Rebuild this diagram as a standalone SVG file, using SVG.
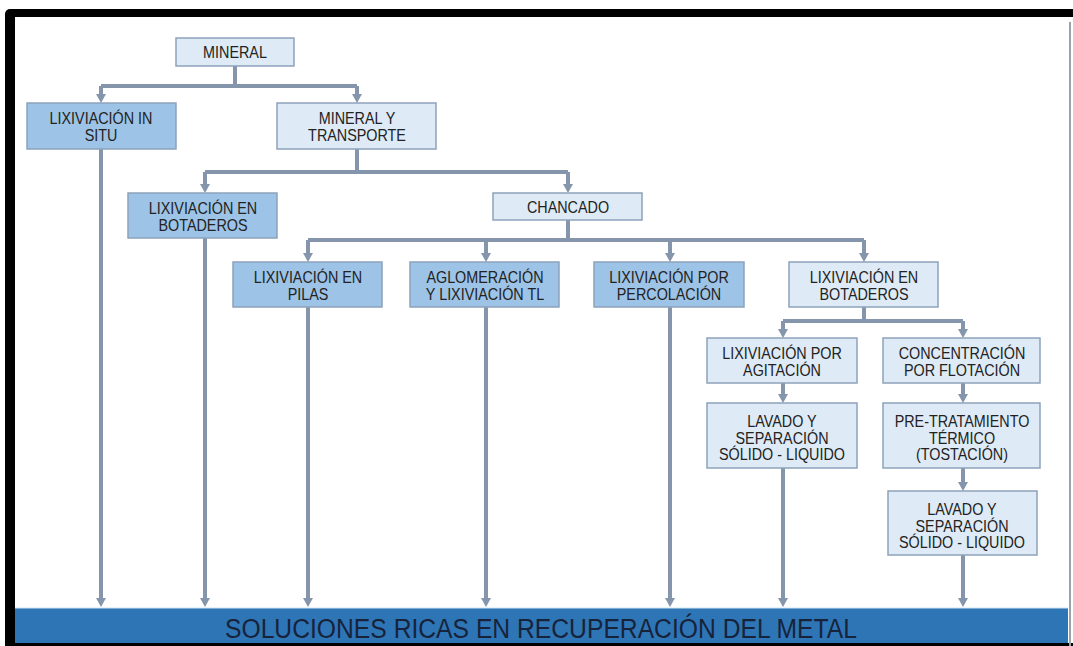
<svg xmlns="http://www.w3.org/2000/svg" width="1073" height="646" viewBox="0 0 1073 646">
<style>
.lt{fill:#deeaf6;stroke:#8da2bb;stroke-width:1.5}
.dk{fill:#9dc3e6;stroke:#8da2bb;stroke-width:1.5}
text{font-family:"Liberation Sans",Arial,sans-serif;font-size:16.5px;fill:#222;text-anchor:middle}
.cn{fill:none;stroke:#8595ab;stroke-width:4}
.ar{marker-end:url(#ah)}
.bar{font-size:27px;fill:#17233a}
</style>
<defs>
<marker id="ah" markerUnits="userSpaceOnUse" markerWidth="10" markerHeight="10" refX="1" refY="5" orient="auto">
<path d="M0,0 L9,5 L0,10 z" fill="#8595ab"/>
</marker>
</defs>
<g id="frame">
<rect x="5" y="9" width="1073" height="645" rx="5" fill="#000"/>
<rect x="15" y="17" width="1053" height="591" fill="#fff"/>
<rect x="1068" y="17" width="5" height="626" fill="#fff"/>
<rect x="1069" y="22" width="2" height="624" fill="#9aa3ad"/>
</g>
<g id="connectors">
<path class="cn" d="M235,66 V86 M101,86 H357"/>
<path class="cn ar" d="M101,86 V95"/>
<path class="cn ar" d="M357,86 V95"/>
<path class="cn" d="M357,149 V172 M205,172 H568"/>
<path class="cn ar" d="M205,172 V185"/>
<path class="cn ar" d="M568,172 V185"/>
<path class="cn" d="M568,220 V240 M308,240 H864"/>
<path class="cn ar" d="M308,240 V254"/>
<path class="cn ar" d="M486,240 V254"/>
<path class="cn ar" d="M670,240 V254"/>
<path class="cn ar" d="M864,240 V254"/>
<path class="cn" d="M864,307 V321 M783,321 H963"/>
<path class="cn ar" d="M783,321 V330"/>
<path class="cn ar" d="M963,321 V330"/>
<path class="cn ar" d="M783,383 V395"/>
<path class="cn ar" d="M963,383 V395"/>
<path class="cn ar" d="M963,468 V483"/>
<path class="cn ar" d="M101,149 V599"/>
<path class="cn ar" d="M205,238 V599"/>
<path class="cn ar" d="M308,307 V599"/>
<path class="cn ar" d="M486,307 V599"/>
<path class="cn ar" d="M670,307 V599"/>
<path class="cn ar" d="M783,468 V599"/>
<path class="cn ar" d="M963,555 V599"/>
</g>
<g id="n-mineral"><rect class="lt" x="176" y="38" width="118" height="28"/><text transform="translate(235,58) scale(0.87,1)">MINERAL</text></g>
<g id="n-insitu"><rect class="dk" x="27" y="103" width="149" height="46"/><text transform="translate(101,124) scale(0.87,1)">LIXIVIACIÓN IN</text><text transform="translate(101,141) scale(0.87,1)">SITU</text></g>
<g id="n-transporte"><rect class="lt" x="277" y="103" width="159" height="46"/><text transform="translate(357,124) scale(0.87,1)">MINERAL Y</text><text transform="translate(357,141) scale(0.87,1)">TRANSPORTE</text></g>
<g id="n-botaderos1"><rect class="dk" x="128" y="193" width="149" height="45"/><text transform="translate(203,214) scale(0.87,1)">LIXIVIACIÓN EN</text><text transform="translate(203,230.5) scale(0.87,1)">BOTADEROS</text></g>
<g id="n-chancado"><rect class="lt" x="493" y="193" width="149" height="27"/><text transform="translate(568,212.5) scale(0.87,1)">CHANCADO</text></g>
<g id="n-pilas"><rect class="dk" x="233" y="262" width="149" height="45"/><text transform="translate(308,283) scale(0.87,1)">LIXIVIACIÓN EN</text><text transform="translate(308,299.5) scale(0.87,1)">PILAS</text></g>
<g id="n-aglomeracion"><rect class="dk" x="410" y="262" width="149" height="45"/><text transform="translate(485,283) scale(0.87,1)">AGLOMERACIÓN</text><text transform="translate(485,299.5) scale(0.87,1)">Y LIXIVIACIÓN TL</text></g>
<g id="n-percolacion"><rect class="dk" x="594" y="262" width="150" height="45"/><text transform="translate(669,283) scale(0.87,1)">LIXIVIACIÓN POR</text><text transform="translate(669,299.5) scale(0.87,1)">PERCOLACIÓN</text></g>
<g id="n-botaderos2"><rect class="lt" x="789" y="262" width="149" height="45"/><text transform="translate(864,283) scale(0.87,1)">LIXIVIACIÓN EN</text><text transform="translate(864,299.5) scale(0.87,1)">BOTADEROS</text></g>
<g id="n-agitacion"><rect class="lt" x="707" y="338" width="150" height="45"/><text transform="translate(782,359) scale(0.87,1)">LIXIVIACIÓN POR</text><text transform="translate(782,375.5) scale(0.87,1)">AGITACIÓN</text></g>
<g id="n-flotacion"><rect class="lt" x="883" y="338" width="157" height="45"/><text transform="translate(962,359) scale(0.87,1)">CONCENTRACIÓN</text><text transform="translate(962,375.5) scale(0.87,1)">POR FLOTACIÓN</text></g>
<g id="n-lavado1"><rect class="lt" x="707" y="403" width="150" height="65"/><text transform="translate(782,427) scale(0.87,1)">LAVADO Y</text><text transform="translate(782,443.5) scale(0.87,1)">SEPARACIÓN</text><text transform="translate(782,460) scale(0.87,1)">SÓLIDO - LIQUIDO</text></g>
<g id="n-pretratamiento"><rect class="lt" x="883" y="403" width="157" height="65"/><text transform="translate(962,427) scale(0.87,1)">PRE-TRATAMIENTO</text><text transform="translate(962,443.5) scale(0.87,1)">TÉRMICO</text><text transform="translate(962,460) scale(0.87,1)">(TOSTACIÓN)</text></g>
<g id="n-lavado2"><rect class="lt" x="888" y="491" width="149" height="64"/><text transform="translate(962,515) scale(0.87,1)">LAVADO Y</text><text transform="translate(962,531.5) scale(0.87,1)">SEPARACIÓN</text><text transform="translate(962,548) scale(0.87,1)">SÓLIDO - LIQUIDO</text></g>
<g id="n-soluciones"><rect x="15" y="608" width="1053" height="35" fill="#2e75b6"/><line x1="15" y1="608" x2="1068" y2="608" stroke="#cfe6f2" stroke-width="1"/><text class="bar" x="541" y="638" textLength="632" lengthAdjust="spacingAndGlyphs">SOLUCIONES RICAS EN RECUPERACIÓN DEL METAL</text></g>
</svg>
